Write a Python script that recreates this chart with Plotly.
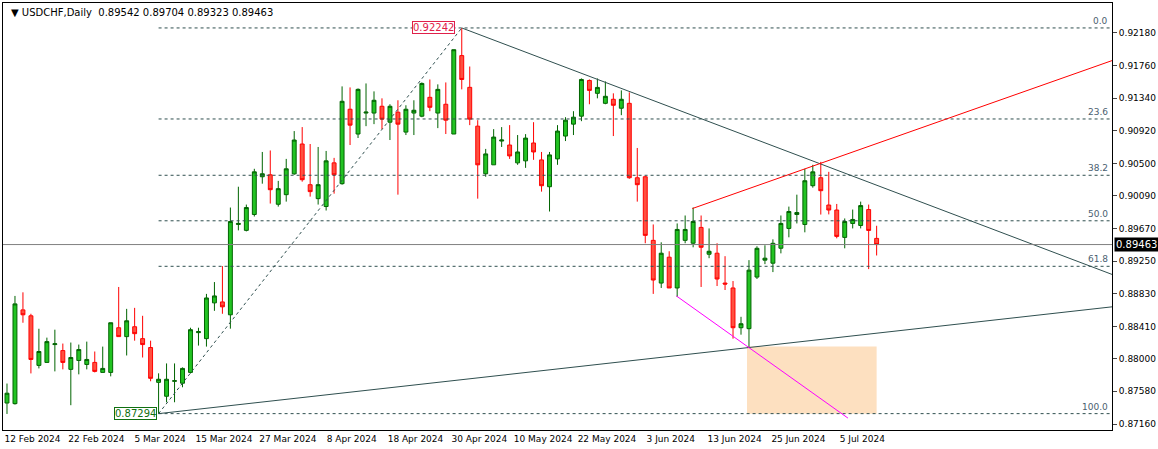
import plotly.graph_objects as go

# USDCHF daily candles, 12 Feb 2024 .. 10 Jul 2024
opens = [0.8743, 0.87422, 0.88625, 0.88549, 0.87913, 0.87951, 0.8818, 0.88103, 0.87862, 0.87976,
         0.87925, 0.87951, 0.87823, 0.87823, 0.88396, 0.88282, 0.88409, 0.88256, 0.88142, 0.87695,
         0.87517, 0.87709, 0.87684, 0.87823, 0.88333, 0.88256, 0.88715, 0.88727, 0.88562, 0.89721,
         0.89645, 0.89849, 0.90333, 0.90358, 0.8998, 0.90103, 0.9037, 0.90753, 0.90231, 0.90052,
         0.89951, 0.90511, 0.90244, 0.91199, 0.90881, 0.9115, 0.9115, 0.91237, 0.91033, 0.91161,
         0.90906, 0.9115, 0.9111, 0.91352, 0.9115, 0.91263, 0.90881, 0.91887, 0.9148, 0.90982,
         0.90371, 0.90486, 0.90791, 0.9074, 0.90511, 0.90537, 0.90766, 0.90549, 0.90205, 0.90562,
         0.90855, 0.91008, 0.9111, 0.91568, 0.91403, 0.91275, 0.91327, 0.91212, 0.91275, 0.9032,
         0.90333, 0.89517, 0.88969, 0.89301, 0.88906, 0.89517, 0.8948, 0.89683, 0.89339, 0.89352,
         0.88969, 0.88906, 0.88396, 0.88384, 0.89046, 0.89263, 0.89224, 0.89416, 0.8967, 0.89849,
         0.89721, 0.90218, 0.9032, 0.8997, 0.89906, 0.89555, 0.89734, 0.89708, 0.89912, 0.89542]
highs = [0.8768, 0.88804, 0.8885, 0.88575, 0.88383, 0.88269, 0.88371, 0.88193, 0.88206, 0.8818,
         0.88218, 0.88091, 0.88154, 0.8846, 0.88919, 0.88638, 0.88651, 0.88549, 0.8823, 0.87811,
         0.87938, 0.87938, 0.87887, 0.88396, 0.88396, 0.8883, 0.88982, 0.89186, 0.89938, 0.90205,
         0.89976, 0.90435, 0.90651, 0.9067, 0.9028, 0.90562, 0.90919, 0.9097, 0.90753, 0.90715,
         0.90664, 0.90575, 0.91492, 0.91479, 0.91466, 0.9153, 0.91428, 0.91339, 0.91263, 0.91314,
         0.9125, 0.91314, 0.91543, 0.91581, 0.91518, 0.91543, 0.91963, 0.92242, 0.91747, 0.91059,
         0.9069, 0.90944, 0.9097, 0.90995, 0.90868, 0.9088, 0.91033, 0.90651, 0.90651, 0.90995,
         0.91097, 0.91174, 0.91594, 0.91581, 0.91594, 0.91556, 0.91403, 0.91441, 0.91416, 0.90702,
         0.90345, 0.89721, 0.89492, 0.89377, 0.89734, 0.89836, 0.89938, 0.89836, 0.8967, 0.8948,
         0.89314, 0.88995, 0.88536, 0.89263, 0.89441, 0.89454, 0.8953, 0.89836, 0.8995, 0.90103,
         0.90435, 0.90486, 0.90524, 0.90396, 0.89984, 0.89798, 0.89912, 0.90014, 0.89976, 0.89704]
lows = [0.8729, 0.8741, 0.8846, 0.8781, 0.87874, 0.87951, 0.87836, 0.87862, 0.87402, 0.87798,
        0.87862, 0.87823, 0.87823, 0.87772, 0.88282, 0.8804, 0.8823, 0.88014, 0.87709, 0.87294,
        0.8744, 0.8744, 0.87632, 0.8781, 0.88167, 0.88154, 0.88613, 0.88575, 0.88384, 0.89645,
        0.89632, 0.89823, 0.90244, 0.89989, 0.8995, 0.90014, 0.90358, 0.9027, 0.90078, 0.89976,
        0.899, 0.90116, 0.90231, 0.9074, 0.9083, 0.90982, 0.91008, 0.90944, 0.90804, 0.90103,
        0.90868, 0.90868, 0.91097, 0.91174, 0.90957, 0.90881, 0.90881, 0.91454, 0.90995, 0.90052,
        0.90333, 0.90486, 0.90715, 0.90562, 0.90486, 0.90447, 0.9055, 0.90142, 0.89887, 0.90486,
        0.90791, 0.90868, 0.91046, 0.91263, 0.91339, 0.91263, 0.90855, 0.91123, 0.90307, 0.90014,
        0.8948, 0.8883, 0.88906, 0.88906, 0.88791, 0.8948, 0.89428, 0.88919, 0.89288, 0.88931,
        0.8888, 0.88256, 0.88307, 0.88142, 0.89021, 0.89212, 0.8911, 0.8935, 0.89556, 0.89734,
        0.8962, 0.90193, 0.89848, 0.8985, 0.89543, 0.89415, 0.8967, 0.8967, 0.89148, 0.89323]
closes = [0.87556, 0.88702, 0.88562, 0.87989, 0.88091, 0.88218, 0.8819, 0.87951, 0.88014, 0.88116,
          0.87989, 0.87836, 0.87874, 0.8846, 0.88282, 0.88485, 0.8832, 0.8818, 0.87747, 0.87735,
          0.87735, 0.87716, 0.87874, 0.88371, 0.88346, 0.88778, 0.88804, 0.88664, 0.89759, 0.89734,
          0.89938, 0.90396, 0.90371, 0.90167, 0.9018, 0.90435, 0.90804, 0.90295, 0.90142, 0.90231,
          0.90537, 0.90358, 0.91301, 0.90995, 0.91454, 0.91162, 0.91314, 0.91072, 0.91237, 0.91008,
          0.91199, 0.91186, 0.9153, 0.91224, 0.91454, 0.91059, 0.91963, 0.91581, 0.91072, 0.90486,
          0.90626, 0.90842, 0.90804, 0.906, 0.90651, 0.90829, 0.90651, 0.90218, 0.90613, 0.90919,
          0.91059, 0.91097, 0.91581, 0.91441, 0.91479, 0.91365, 0.9125, 0.91327, 0.9032, 0.90231,
          0.89581, 0.89008, 0.89352, 0.88906, 0.89657, 0.89657, 0.89759, 0.89428, 0.89377, 0.89021,
          0.88957, 0.88396, 0.88447, 0.89135, 0.89415, 0.89288, 0.89479, 0.89734, 0.89887, 0.89874,
          0.90282, 0.90396, 0.90154, 0.89906, 0.89568, 0.89759, 0.89785, 0.89963, 0.89644, 0.89463]

date_labels = ['12 Feb 2024', '22 Feb 2024', '5 Mar 2024', '15 Mar 2024', '27 Mar 2024', '8 Apr 2024',
               '18 Apr 2024', '30 Apr 2024', '10 May 2024', '22 May 2024', '3 Jun 2024', '13 Jun 2024',
               '25 Jun 2024', '5 Jul 2024']
price_ticks = [0.92180, 0.91760, 0.91340, 0.90920, 0.90500, 0.90090, 0.89670, 0.89250,
               0.88830, 0.88410, 0.88000, 0.87580, 0.87160]
fib_levels = ['0.0', '23.6', '38.2', '50.0', '61.8', '100.0']
fib_ratios = [0.0, 0.236, 0.382, 0.5, 0.618, 1.0]

swing_low, swing_high = 0.87294, 0.92242
low_idx, high_idx = 19, 57
x_end = 138.5
idx = list(range(len(opens)))

fig = go.Figure()
fig.add_trace(go.Candlestick(
    x=idx, open=opens, high=highs, low=lows, close=closes,
    increasing=dict(fillcolor='#22c322', line=dict(color='#006400', width=1)),
    decreasing=dict(fillcolor='#ff5040', line=dict(color='#ff0000', width=1)),
    whiskerwidth=0, showlegend=False, hoverinfo='skip'
))

dark = '#2f4f4f'
# fibo levels
for name, r in zip(fib_levels, fib_ratios):
    lvl = swing_high - (swing_high - swing_low) * r
    fig.add_shape(type='line', x0=low_idx, x1=x_end, y0=lvl, y1=lvl,
                  line=dict(color=dark, width=1, dash='3px,3px'))
    fig.add_annotation(x=x_end - 0.2, y=lvl, text=name, showarrow=False, xanchor='right',
                       yanchor='bottom', font=dict(size=9, color='#4a6070', family='DejaVu Sans'))
fig.add_shape(type='line', x0=low_idx, x1=high_idx, y0=swing_low, y1=swing_high,
              line=dict(color=dark, width=1, dash='3px,3px'))

# trendlines
fig.add_shape(type='line', x0=high_idx, x1=x_end, y0=swing_high, y1=0.8908,
              line=dict(color=dark, width=1))
fig.add_shape(type='line', x0=low_idx, x1=x_end, y0=swing_low, y1=0.88664,
              line=dict(color=dark, width=1))
fig.add_shape(type='line', x0=85.9, x1=x_end, y0=0.89925, y1=0.91823,
              line=dict(color='#ff0000', width=1))
fig.add_shape(type='line', x0=83.9, x1=105.4, y0=0.88804, y1=0.87237,
              line=dict(color='#ff00ff', width=1))
fig.add_shape(type='rect', x0=92.75, x1=109, y0=swing_low, y1=0.88154,
              fillcolor='#fde0c0', line=dict(width=0), layer='below')

# current price
fig.add_shape(type='line', xref='paper', x0=0, x1=1, y0=closes[-1], y1=closes[-1],
              line=dict(color='#808080', width=1))
fig.add_annotation(xref='paper', x=1.002, y=closes[-1], text=f'{closes[-1]:.5f}', showarrow=False,
                   xanchor='left', bgcolor='black', font=dict(color='white', size=10, family='DejaVu Sans'),
                   borderpad=1)

fig.add_annotation(x=high_idx - 0.8, y=swing_high, text=f'{swing_high:.5f}', showarrow=False,
                   xanchor='right', bgcolor='white', bordercolor='#e0204a', borderwidth=1, borderpad=0,
                   font=dict(color='#e0204a', size=10, family='DejaVu Sans'))
fig.add_annotation(x=low_idx - 0.2, y=swing_low, text=f'{swing_low:.5f}', showarrow=False,
                   xanchor='right', bgcolor='white', bordercolor='#107010', borderwidth=1, borderpad=0,
                   font=dict(color='#107010', size=10, family='DejaVu Sans'))
fig.add_annotation(xref='paper', yref='paper', x=0.005, y=0.995, xanchor='left', yanchor='top',
                   text='▼ USDCHF,Daily  0.89542 0.89704 0.89323 0.89463', showarrow=False,
                   font=dict(size=10, color='black', family='DejaVu Sans'))

fig.update_layout(
    width=1158, height=449,
    margin=dict(l=3, r=46, t=3, b=19, autoexpand=False),
    paper_bgcolor='white', plot_bgcolor='white',
    font=dict(family='DejaVu Sans', size=9, color='black'),
    xaxis=dict(range=[-0.5, x_end], tickvals=[i * 8 + 3.2 for i in range(len(date_labels))],
               ticktext=date_labels, showgrid=False, zeroline=False, rangeslider=dict(visible=False),
               showline=True, linecolor='black', mirror=True, ticks='', tickfont=dict(size=9),
               automargin=False),
    yaxis=dict(range=[0.87084, 0.92562], side='right', tickvals=price_ticks,
               ticktext=[f'{v:.5f}' for v in price_ticks], showgrid=False, zeroline=False,
               showline=True, linecolor='black', mirror=True, ticks='outside', ticklen=4,
               tickfont=dict(size=9), automargin=False)
)

fig.write_html('out.html', config={'displayModeBar': False},
               post_script="document.body.style.margin='0';document.body.style.overflow='hidden';")
